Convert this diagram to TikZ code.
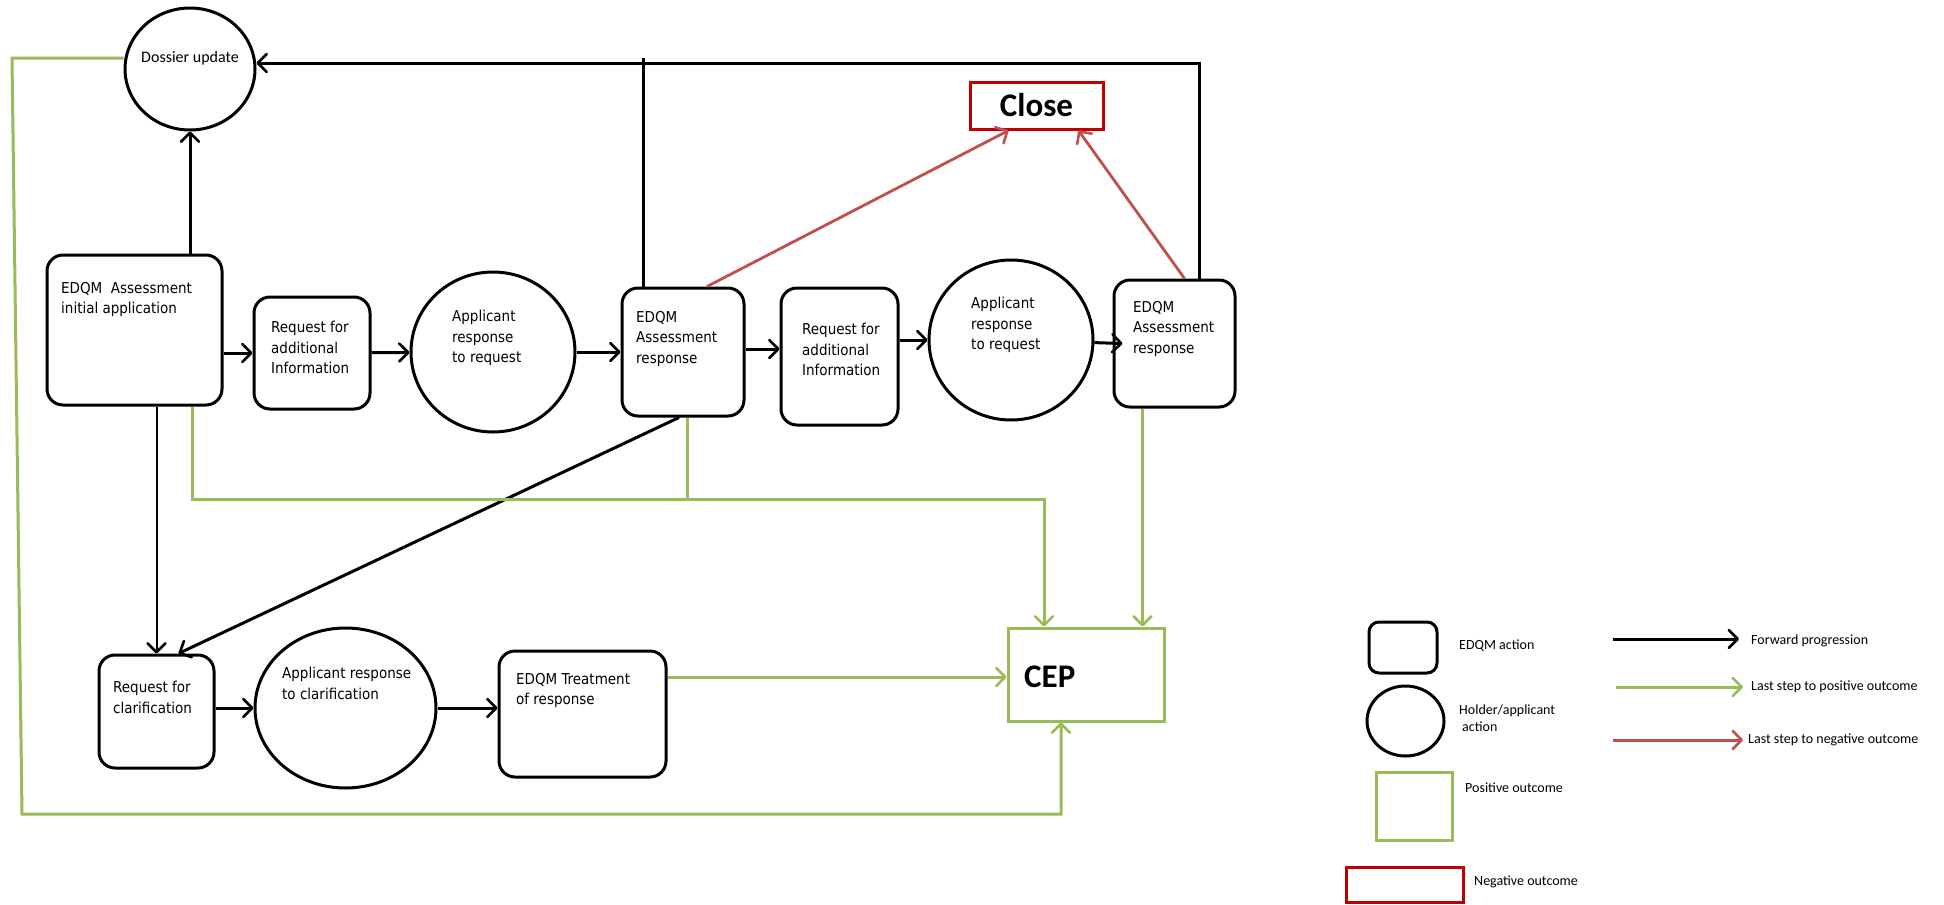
\documentclass[tikz,border=0pt]{standalone}
\usepackage{fontspec}
\setmainfont{Carlito}
\newfontfamily\boxfont{DejaVu Sans Condensed}
\usetikzlibrary{arrows.meta,shapes.geometric}

\definecolor{posgreen}{RGB}{155,187,89}
\definecolor{negred}{RGB}{192,80,77}
\definecolor{closered}{RGB}{192,0,0}

\begin{document}
\begin{tikzpicture}[x=1pt, y=-1pt, >={Straight Barb[length=9pt,width=18pt,line width=2.6pt,round]},
                    edqm/.style={draw, line width=3pt, rounded corners=16pt, inner sep=0pt},
                    holder/.style={draw, ellipse, line width=3pt, inner sep=0pt},
                    outcome/.style={draw=posgreen, line width=3pt, inner sep=0pt},
                    fail/.style={draw=closered, line width=3pt, inner sep=0pt},
                    txt/.style={font=\boxfont\fontsize{15}{20.5}\selectfont, align=left, inner sep=0pt, anchor=north west},
                    bigtxt/.style={font=\bfseries\fontsize{33}{40}\selectfont},
                    legtxt/.style={font=\fontsize{14}{17}\selectfont, align=left, inner sep=0pt, anchor=west},
                    fwd/.style={draw, line width=3pt, ->},
                    good/.style={draw=posgreen, line width=3pt, ->},
                    bad/.style={draw=negred, line width=2.8pt, ->}]

\path[use as bounding box, fill=white] (0,0) rectangle (1944,905);

% main row
\node[holder, minimum width=130pt, minimum height=122pt] (dos) at (190,69) {};
\node[inner sep=0pt, font=\fontsize{16}{19}\selectfont] (dos-t) at (190,58) {Dossier update};

\node[edqm, minimum width=175pt, minimum height=150pt] (init) at (134.5,330) {};
\node[txt] (init-t) at (61,282) {EDQM~ Assessment\\initial application};
\node[edqm, minimum width=116pt, minimum height=112pt] (req1) at (312,353) {};
\node[txt] (req1-t) at (271,321) {Request for\\additional\\Information};
\node[holder, minimum width=164pt, minimum height=160pt] (app1) at (493,352) {};
\node[txt] (app1-t) at (452,310) {Applicant\\response\\to request};
\node[edqm, minimum width=122pt, minimum height=128pt] (ass1) at (683,352) {};
\node[txt] (ass1-t) at (636,311) {EDQM\\Assessment\\response};
\node[edqm, minimum width=117pt, minimum height=137pt] (req2) at (839.5,356.5) {};
\node[txt] (req2-t) at (802,323) {Request for\\additional\\Information};
\node[holder, minimum width=164pt, minimum height=160pt] (app2) at (1011,340) {};
\node[txt] (app2-t) at (971,297) {Applicant\\response\\to request};
\node[edqm, minimum width=121pt, minimum height=127pt] (ass2) at (1174.5,343.5) {};
\node[txt] (ass2-t) at (1133,301) {EDQM\\Assessment\\response};

\node[fail, bigtxt, minimum width=133pt, minimum height=47pt] (close) at (1036.5,105.5) {Close};

% lower row
\node[edqm, minimum width=115pt, minimum height=113pt] (clar) at (156.5,711.5) {};
\node[txt] (clar-t) at (113,681) {Request for\\clarification};
\node[holder, minimum width=181pt, minimum height=160pt] (app3) at (345.5,708) {};
\node[txt] (app3-t) at (282,667) {Applicant response\\to clarification};
\node[edqm, minimum width=167pt, minimum height=126pt] (treat) at (582.5,714) {};
\node[txt] (treat-t) at (516,673) {EDQM Treatment\\of response};

\node[outcome, minimum width=156pt, minimum height=93pt] (cep) at (1086,674.5) {};
\node[bigtxt, inner sep=0pt, anchor=west] (cep-t) at (1024,677) {CEP};

\coordinate (top1) at (643,58);
\coordinate (gj) at (1044,499);
\coordinate (gl1) at (12,58);
\coordinate (gl2) at (22,814);

% forward progression
\draw[fwd] (init.north -| dos.south) -- (dos.south);
\draw[fwd] (init.east |- req1.west) -- (req1.west);
\draw[fwd] (req1) -- (app1);
\draw[fwd] (app1) -- (ass1);
\draw[fwd] ([yshift=3pt]ass1.east) -- ([yshift=3pt]ass1.east -| req2.west);
\draw[fwd] (req2.east |- app2.west) -- (app2.west);
\draw[fwd] (app2) -- ([xshift=10pt]ass2.west);
\draw[fwd] ([xshift=25pt]ass2.north) |- ([yshift=6pt]dos.east);
\draw[line width=3pt] (ass1.north -| top1) -- (top1);
\draw[fwd, line width=2pt] (init.south -| clar.north) -- (clar.north);
\draw[fwd] ([xshift=-4pt]ass1.south) -- ([xshift=22pt]clar.north);
\draw[fwd] (clar.east |- app3.west) -- (app3.west);
\draw[fwd] (app3.east) -- (app3.east -| treat.west);

% negative outcome
\draw[bad] ([xshift=24pt]ass1.north) -- ([xshift=-28pt]close.south);
\draw[bad] ([xshift=10pt]ass2.north) -- ([xshift=42pt]close.south);

% positive outcome
\draw[good] ([xshift=58pt]init.south) |- (gj) -- (gj |- cep.north);
\draw[draw=posgreen, line width=3pt] ([xshift=4pt]ass1.south) -- ([xshift=4pt]ass1.south |- gj);
\draw[good] ([xshift=-32pt]ass2.south) -- ([xshift=-32pt]ass2.south |- cep.north);
\draw[good] ([yshift=37pt]treat.east) -- ([yshift=37pt]treat.east -| cep.west);
\draw[good] (gl1 -| dos.west) -- (gl1) -- (gl2) -| ([xshift=-25pt]cep.south);

% legend
\node[edqm, rounded corners=10pt, minimum width=68pt, minimum height=51pt] (k-edqm) at (1403,647.5) {};
\node[legtxt] (k-edqm-t) at (1459,646) {EDQM action};
\node[holder, minimum width=77pt, minimum height=70pt] (k-hold) at (1405.5,721) {};
\node[legtxt, anchor=north west] (k-hold-t) at (1459,705) {Holder/applicant\\\hspace{3pt}action};
\node[outcome, minimum width=76pt, minimum height=68pt] (k-pos) at (1414,806) {};
\node[legtxt] (k-pos-t) at (1465,788) {Positive outcome};
\node[fail, minimum width=117pt, minimum height=35pt] (k-neg) at (1404.5,884.5) {};
\node[legtxt] (k-neg-t) at (1474,882) {Negative outcome};

\coordinate (k1a) at (1613,639);
\coordinate (k1b) at (1739,639);
\coordinate (k2a) at (1616,687);
\coordinate (k2b) at (1743,687);
\coordinate (k3a) at (1613,740);
\coordinate (k3b) at (1743,740);
\draw[fwd] (k1a) -- (k1b);
\draw[good] (k2a) -- (k2b);
\draw[bad, line width=3pt] (k3a) -- (k3b);
\node[legtxt] (k1-t) at (1751,641) {Forward progression};
\node[legtxt] (k2-t) at (1751,687) {Last step to positive outcome};
\node[legtxt] (k3-t) at (1748,740) {Last step to negative outcome};
\end{tikzpicture}
\end{document}
